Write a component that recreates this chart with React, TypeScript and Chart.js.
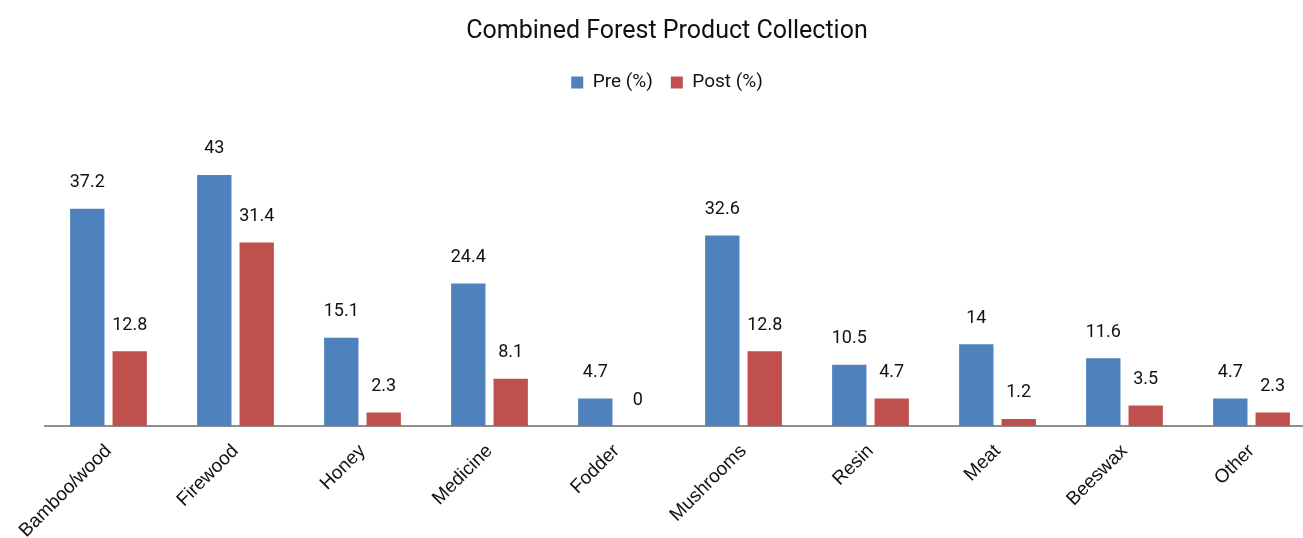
import React, { useEffect, useRef } from "react";
import { Chart, registerables } from "chart.js";

Chart.register(...registerables);

const categories = ["Bamboo/wood", "Firewood", "Honey", "Medicine", "Fodder", "Mushrooms", "Resin", "Meat", "Beeswax", "Other"];
const preValues = [37.2, 43, 15.1, 24.4, 4.7, 32.6, 10.5, 14, 11.6, 4.7];
const postValues = [12.8, 31.4, 2.3, 8.1, 0, 12.8, 4.7, 1.2, 3.5, 2.3];
const seriesNames = ["Pre (%)", "Post (%)"];
const titleText = "Combined Forest Product Collection";

const valueLabels = {
  id: "valueLabels",
  afterDatasetsDraw(chart: any) {
    const ctx = chart.ctx;
    ctx.save();
    ctx.font = "18px Roboto";
    ctx.fillStyle = "#111";
    ctx.textAlign = "center";
    ctx.textBaseline = "middle";
    chart.data.datasets.forEach((ds: any, di: number) => {
      const meta = chart.getDatasetMeta(di);
      meta.data.forEach((bar: any, i: number) => {
        ctx.fillText(String(ds.data[i]), bar.x, bar.y - 26);
      });
    });
    ctx.restore();
  },
};

export default function App() {
  const ref = useRef<HTMLCanvasElement>(null);
  useEffect(() => {
    const chart = new Chart(ref.current!, {
      type: "bar",
      data: {
        labels: categories,
        datasets: [
          { label: seriesNames[0], data: preValues, backgroundColor: "#4F81BD", categoryPercentage: 0.668, barPercentage: 0.81 },
          { label: seriesNames[1], data: postValues, backgroundColor: "#C0504D", categoryPercentage: 0.668, barPercentage: 0.81 },
        ],
      },
      options: {
        animation: false,
        responsive: false,
        maintainAspectRatio: false,
        layout: { padding: { left: 19, right: 3, top: 17, bottom: 0 } },
        plugins: {
          title: {
            display: true,
            text: titleText,
            font: { family: "Roboto", size: 25, weight: "normal" },
            color: "#111",
            padding: { top: 0, bottom: 8 },
          },
          legend: {
            display: true,
            labels: {
              boxWidth: 12,
              boxHeight: 12,
              font: { family: "Roboto", size: 19 },
              color: "#111",
              padding: 18,
            },
          },
          tooltip: { enabled: false },
        },
        scales: {
          x: {
            grid: { display: false },
            border: { display: true, color: "#8f8f8f", width: 2 },
            ticks: {
              maxRotation: 45,
              minRotation: 45,
              color: "#111",
              font: { family: "Liberation Sans", size: 19 },
              padding: 6,
            },
            afterFit(scale: any) {
              scale.height = 112;
            },
          },
          xTopSpacer: {
            type: "category",
            position: "top",
            display: true,
            grid: { display: false },
            border: { display: false },
            ticks: { display: false },
            afterFit(scale: any) {
              scale.height = 32;
            },
          },
          y: {
            display: true,
            min: 0,
            max: 50,
            grid: { display: false },
            border: { display: false },
            ticks: { display: false },
            afterFit(scale: any) {
              scale.width = 26;
            },
          },
        },
      },
      plugins: [valueLabels],
    });
    return () => chart.destroy();
  }, []);
  return (
    <div style={{ position: "absolute", left: 0, top: 0, width: 1303, height: 538, overflow: "hidden", background: "#fff" }}>
      <canvas ref={ref} width={1318} height={538} style={{ width: 1318, height: 538, display: "block" }} />
    </div>
  );
}
